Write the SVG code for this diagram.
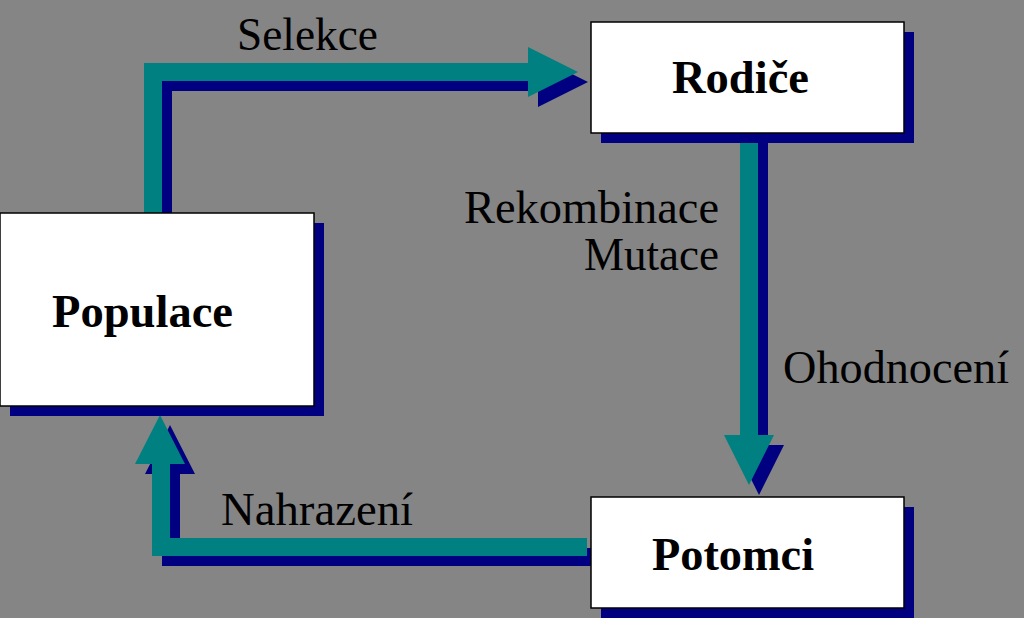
<svg xmlns="http://www.w3.org/2000/svg" width="1024" height="618" viewBox="0 0 1024 618">
<style>
.t{font-family:"Liberation Serif","Times New Roman",serif;font-size:46px;fill:#000}
.b{font-family:"Liberation Serif","Times New Roman",serif;font-size:46px;font-weight:bold;fill:#000}
.box{fill:#fff;stroke:#000;stroke-width:1.5}
.sh{fill:#000080}
.ar{fill:#008080}
</style>
<rect width="1024" height="618" fill="#858585"/>
<g id="connectors">
  <g id="selekce-arrow">
    <polygon class="sh" points="154,223 154,73 538,73 538,57 588,82 538,107 538,91 172,91 172,223"/>
    <polygon class="ar" points="144,213 144,63 528,63 528,47 578,72 528,97 528,81 162,81 162,213"/>
  </g>
  <g id="rekombinace-arrow">
    <polygon class="sh" points="750,143 768,143 768,445 784,445 759,495 734,445 750,445"/>
    <polygon class="ar" points="740,133 758,133 758,435 774,435 749,485 724,435 740,435"/>
  </g>
  <g id="nahrazeni-arrow">
    <polygon class="sh" points="601,548 601,566 162,566 162,474 145,474 170,425 195,474 180,474 180,548"/>
    <polygon class="ar" points="587,538 587,556 152,556 152,464 135,464 160,415 185,464 170,464 170,538"/>
  </g>
  <text class="t" x="237" y="50" textLength="141" lengthAdjust="spacingAndGlyphs">Selekce</text>
  <text class="t" x="464" y="223" textLength="255" lengthAdjust="spacingAndGlyphs">Rekombinace</text>
  <text class="t" x="584" y="270" textLength="135" lengthAdjust="spacingAndGlyphs">Mutace</text>
  <text class="t" x="783" y="383" textLength="226" lengthAdjust="spacingAndGlyphs">Ohodnocení</text>
  <text class="t" x="221" y="525" textLength="192" lengthAdjust="spacingAndGlyphs">Nahrazení</text>
</g>
<g id="rodice">
  <rect class="sh" x="601" y="32" width="313" height="111"/>
  <rect class="box" x="591" y="22" width="313" height="111"/>
  <text class="b" x="672" y="93" textLength="137" lengthAdjust="spacingAndGlyphs">Rodiče</text>
</g>
<g id="populace">
  <rect class="sh" x="10" y="223" width="314" height="193"/>
  <rect class="box" x="0" y="213" width="314" height="193"/>
  <text class="b" x="52" y="327" textLength="181" lengthAdjust="spacingAndGlyphs">Populace</text>
</g>
<g id="potomci">
  <rect class="sh" x="601" y="507" width="313" height="111"/>
  <rect class="box" x="591" y="497" width="313" height="111"/>
  <text class="b" x="652" y="570" textLength="162" lengthAdjust="spacingAndGlyphs">Potomci</text>
</g>
</svg>
